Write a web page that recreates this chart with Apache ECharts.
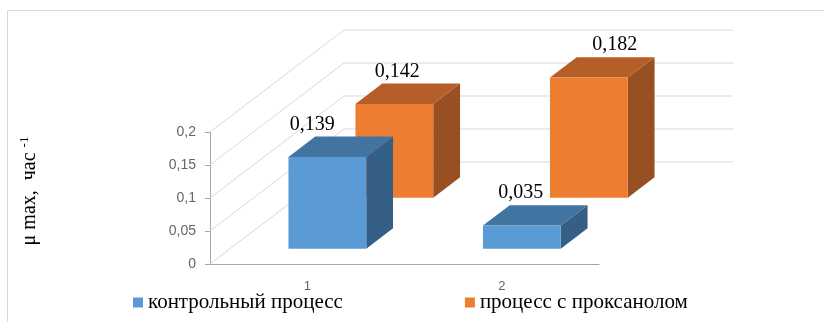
<!DOCTYPE html>
<html>
<head>
    <meta charset="utf-8"/>
    <script src="https://cdn.jsdelivr.net/npm/echarts@6/dist/echarts.min.js"></script>
    <style>
        html, body { margin: 0; padding: 0; background: #fff; }
        #main { width: 824px; height: 322px; }
    </style>
</head>
<body>
<div id="main"></div>
<script type="text/javascript">
    // данные диаграммы
    var categories = ['1', '2'];
    var seriesNames = ['контрольный процесс', 'процесс с проксанолом'];
    var controlValues = [0.139, 0.035];
    var proxanolValues = [0.142, 0.182];
    var yTicks = [0, 0.05, 0.1, 0.15, 0.2];

    // псевдо-3D: смещение задней стенки, px
    var DX = 134, DY = -102;
    var frontColors = ['#5B9BD5', '#ED7D31'];
    var topColors = ['#4274A1', '#B55E27'];
    var sideColors = ['#365F86', '#984F21'];
    // сдвиг подписей значений по x (как в оригинале)
    var labelShift = [[-15, -1], [3, 26]];

    var serif = 'Liberation Serif';

    function fmt(v) {
        return String(v).replace('.', ',');
    }

    function barRenderer(row) {
        return function (params, api) {
            var cat = api.value(0), val = api.value(1);
            var base = api.coord([cat, 0]);
            var top = api.coord([cat, val]);
            var w = api.size([1, 0])[0] * 0.4;
            var d0 = (row + 0.5) / 2 - 0.1, d1 = d0 + 0.2;
            var ox = DX * d0, oy = DY * d0;
            var bx = DX * (d1 - d0), by = DY * (d1 - d0);
            var xl = base[0] - w / 2 + ox, xr = base[0] + w / 2 + ox;
            var yb = base[1] + oy, yt = top[1] + oy;
            return {
                type: 'group',
                children: [{
                    type: 'polygon',
                    shape: {points: [[xr, yt], [xr + bx, yt + by], [xr + bx, yb + by], [xr, yb]]},
                    style: {fill: sideColors[row]}
                }, {
                    type: 'polygon',
                    shape: {points: [[xl, yt], [xr, yt], [xr + bx, yt + by], [xl + bx, yt + by]]},
                    style: {fill: topColors[row]}
                }, {
                    type: 'rect',
                    shape: {x: xl, y: yt, width: xr - xl, height: yb - yt},
                    style: {fill: frontColors[row]}
                }, {
                    type: 'text',
                    x: (xl + xr) / 2 + labelShift[row][params.dataIndex],
                    y: yt + by - 12,
                    style: {
                        text: fmt(val),
                        fontFamily: serif,
                        fontSize: 20,
                        fill: '#000',
                        align: 'center',
                        verticalAlign: 'middle'
                    }
                }]
            };
        };
    }

    function wallRenderer(params, api) {
        var y = api.coord([0, api.value(1)])[1];
        var cs = params.coordSys;
        return {
            type: 'polyline',
            shape: {points: [[cs.x, y], [cs.x + DX, y + DY], [cs.x + cs.width + DX, y + DY]]},
            style: {stroke: '#D9D9D9', lineWidth: 1, fill: null}
        };
    }

    var myChart = echarts.init(document.getElementById('main'));

    var option = {
        animation: false,
        grid: {left: 210, top: 132, width: 389, height: 132},
        legend: {
            data: seriesNames,
            left: 133,
            top: 292,
            padding: 0,
            icon: 'rect',
            itemWidth: 10,
            itemHeight: 10,
            itemGap: 122,
            textStyle: {fontFamily: serif, fontSize: 21, color: '#000'}
        },
        graphic: [{
            type: 'rect',
            shape: {x: 7.5, y: 10.5, width: 900, height: 400},
            style: {fill: null, stroke: '#D9D9D9', lineWidth: 1},
            z: -10
        }, {
            type: 'text',
            x: 30,
            y: 191,
            rotation: Math.PI / 2,
            style: {
                text: '{a|μ max,  час }{s|-1}',
                align: 'center',
                verticalAlign: 'middle',
                rich: {
                    a: {fontFamily: serif, fontSize: 20, fill: '#000', lineHeight: 24},
                    s: {fontFamily: serif, fontSize: 13, fill: '#000', verticalAlign: 'top', lineHeight: 24}
                }
            }
        }],
        xAxis: {
            type: 'category',
            data: categories,
            axisLine: {lineStyle: {color: '#A6A6A6'}},
            axisTick: {show: false},
            axisLabel: {color: '#666', fontFamily: 'Liberation Sans', fontSize: 13, margin: 16}
        },
        yAxis: {
            type: 'value',
            min: 0,
            max: 0.2,
            interval: 0.05,
            axisLine: {show: true, lineStyle: {color: '#A6A6A6'}},
            axisTick: {show: true, length: 5, lineStyle: {color: '#A6A6A6'}},
            splitLine: {show: false},
            axisLabel: {
                color: '#666',
                fontFamily: 'Liberation Sans',
                fontSize: 14,
                margin: 14,
                formatter: function (v) { return fmt(v); }
            }
        },
        series: [{
            name: 'walls',
            type: 'custom',
            renderItem: wallRenderer,
            data: yTicks.map(function (v) { return [0, v]; }),
            silent: true,
            z: 1
        }, {
            name: seriesNames[1],
            type: 'custom',
            renderItem: barRenderer(1),
            itemStyle: {color: frontColors[1]},
            data: proxanolValues.map(function (v, i) { return [i, v]; }),
            z: 2
        }, {
            name: seriesNames[0],
            type: 'custom',
            renderItem: barRenderer(0),
            itemStyle: {color: frontColors[0]},
            data: controlValues.map(function (v, i) { return [i, v]; }),
            z: 3
        }]
    };
    myChart.setOption(option);
</script>
</body>
</html>
